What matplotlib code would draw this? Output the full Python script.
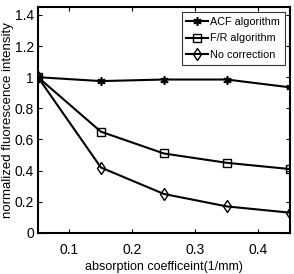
#!/usr/bin/env python

import matplotlib
matplotlib.use('Agg')
import matplotlib.pyplot as plt

x = [0.05, 0.15, 0.25, 0.35, 0.45]
acf = [1.0, 0.975, 0.985, 0.985, 0.935]
fr = [1.0, 0.65, 0.51, 0.45, 0.41]
nocorr = [1.0, 0.42, 0.25, 0.17, 0.13]
labels = ['ACF algorithm', 'F/R algorithm', 'No correction']

plt.rcParams['font.family'] = ['Liberation Sans', 'DejaVu Sans']

fig = plt.figure(figsize=(2.94, 2.74), dpi=100)
ax = fig.add_axes([0.129, 0.150, 0.857, 0.824])

ax.plot(x, acf, color='black', marker=(6, 2, 0), markersize=6, markeredgewidth=1.2,
        linewidth=1.5, label=labels[0])
ax.plot(x, fr, color='black', marker='s', markersize=5.5, markerfacecolor='none',
        markeredgewidth=1.0, linewidth=1.5, label=labels[1])
ax.plot(x, nocorr, color='black', marker='d', markersize=6.5, markerfacecolor='none',
        markeredgewidth=1.0, linewidth=1.5, label=labels[2])

ax.set_xlim(0.05, 0.45)
ax.set_ylim(0, 1.45)
ax.set_xticks([0.1, 0.2, 0.3, 0.4])
ax.set_xticklabels(['0.1', '0.2', '0.3', '0.4'])
ax.set_yticks([0, 0.2, 0.4, 0.6, 0.8, 1.0, 1.2, 1.4])
ax.set_yticklabels(['0', '0.2', '0.4', '0.6', '0.8', '1', '1.2', '1.4'])
ax.tick_params(direction='in', top=True, right=True, labelsize=10, length=3, pad=3)
ax.tick_params(axis='x', pad=7)
for s in ax.spines.values():
    s.set_linewidth(1.5)

ax.set_xlabel('absorption coefficeint(1/mm)', fontsize=9, labelpad=3)
ax.set_ylabel('normalized fluorescence intensity', fontsize=9.5, labelpad=0)

leg = ax.legend(loc='upper right', fontsize=7.8, frameon=True, fancybox=False,
                edgecolor='black', handlelength=2.0, handletextpad=0.2,
                borderpad=0.45, labelspacing=0.6, borderaxespad=0.45)
leg.get_frame().set_linewidth(0.8)

plt.savefig('out.png', dpi=100)
